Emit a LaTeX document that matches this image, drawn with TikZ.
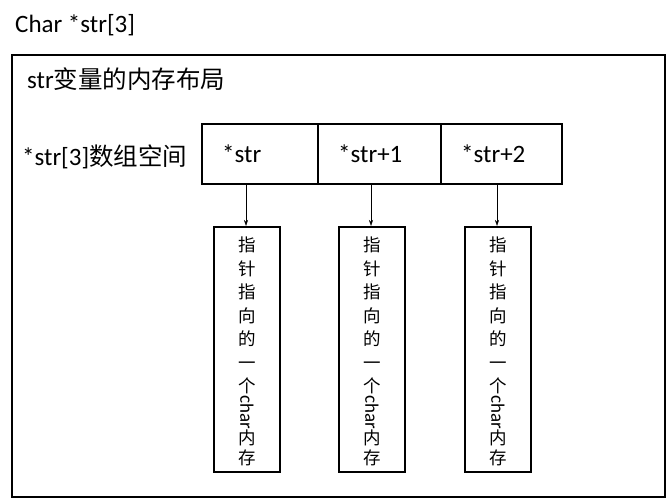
\documentclass[tikz,border=0pt]{standalone}
\usepackage{fontspec}
\setmainfont{Carlito}
\newfontfamily\cjk{Noto Sans CJK SC}
\usetikzlibrary{arrows.meta}
\begin{document}
\begin{tikzpicture}[x=1pt,y=-1pt,
  bx/.style={draw,line width=2pt},
  lab/.style={anchor=west,inner sep=0,font=\fontsize{25}{29}\selectfont},
  vt/.style={anchor=north,inner sep=0,align=center,font=\fontsize{17.5}{23.5}\selectfont\cjk},
  arr/.style={-{Stealth[length=6pt,width=4pt]},line width=0.5pt}]
\useasboundingbox (0,0) rectangle (667,500);
\node[lab] (title) at (15,25) {Char *str[3]};
\draw[bx] (12,55) rectangle (665,497);
\node[lab] (h) at (27,79) {str{\cjk\fontsize{24.5}{28}\selectfont 变量的内存布局}};
\node[lab] (arrlab) at (22,157) {*str[3]{\cjk\fontsize{24.5}{28}\selectfont 数组空间}};
\node[bx,minimum width=116pt,minimum height=60pt,inner sep=0] (c1) at (260,154) {};
\node[bx,minimum width=123pt,minimum height=60pt,inner sep=0] (c2) at (379.5,154) {};
\node[bx,minimum width=121pt,minimum height=60pt,inner sep=0] (c3) at (501.5,154) {};
\node[lab] (t1) at (222,154) {*str};
\node[lab] (t2) at (338,154) {*str+1};
\node[lab] (t3) at (461,154) {*str+2};
\foreach \i/\x in {1/247,2/372,3/498}{
  \node[bx,minimum width=66pt,minimum height=245pt,inner sep=0] (b\i) at (\x,349.5) {};
  \node[vt] (v\i) at (\x,237) {指\\针\\指\\向\\的\\一\\个};
  \node[inner sep=0,rotate=-90,anchor=west,font=\fontsize{19}{19}\selectfont] (r\i) at (\x,395) {char};
  \node[vt,font=\fontsize{17.5}{20}\selectfont\cjk] (w\i) at (\x,430) {内\\存};
  \coordinate (s\i) at (\x-1,184);
  \draw[arr] (s\i) -- (b\i.north -| s\i);
}
\end{tikzpicture}
\end{document}
